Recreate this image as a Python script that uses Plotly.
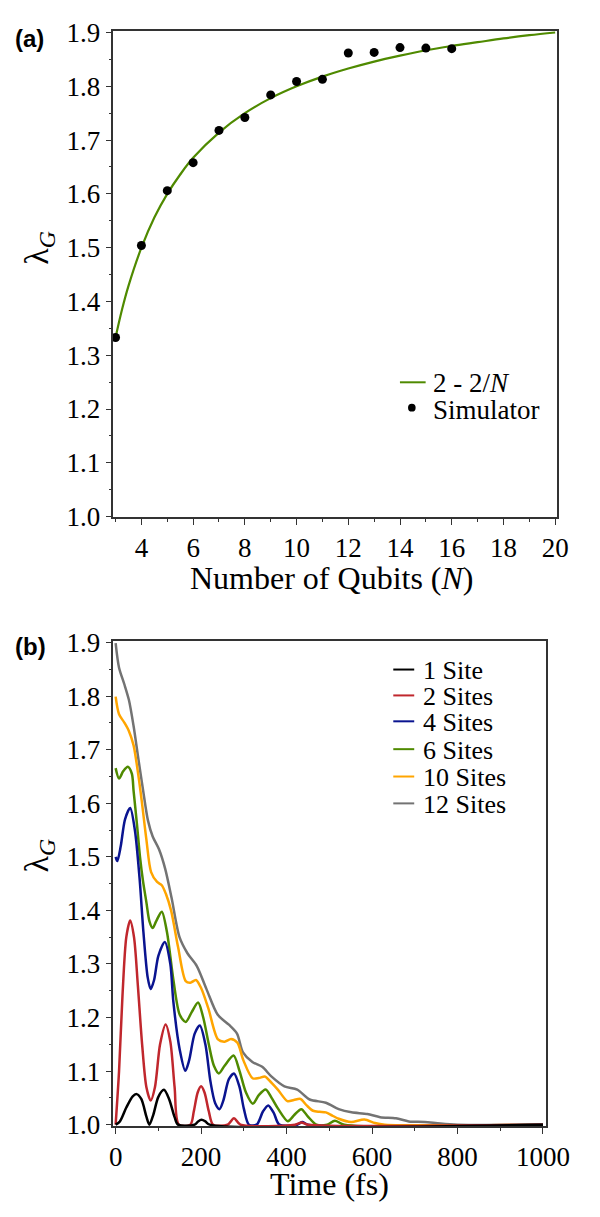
import plotly.graph_objects as go

# ---------------- data: panel (a) ----------------
fit_N = [3, 3.25, 3.5, 4, 4.5, 5, 5.5, 6, 7, 8, 9, 10, 11, 12, 13, 14, 15, 16, 17, 18, 19, 20]
fit_val = [1.333, 1.385, 1.429, 1.500, 1.556, 1.600, 1.636, 1.667, 1.714, 1.750, 1.778, 1.800,
           1.818, 1.833, 1.846, 1.857, 1.867, 1.875, 1.882, 1.889, 1.895, 1.900]
sim_N = [3, 4, 5, 6, 7, 8, 9, 10, 11, 12, 13, 14, 15, 16]
sim_val = [1.333, 1.504, 1.606, 1.658, 1.718, 1.742, 1.784, 1.809, 1.813, 1.862, 1.863, 1.872, 1.871, 1.870]

# ---------------- data: panel (b) ----------------
t_1 = [0, 10, 25, 40, 49, 60, 72, 79, 88, 100, 113, 125, 138, 146, 185, 193, 201, 210, 220, 1000]
v_1 = [1.0, 1.006, 1.032, 1.053, 1.057, 1.048, 1.015, 1.0, 1.018, 1.052, 1.065, 1.048, 1.014, 1.0,
       1.0, 1.006, 1.009, 1.006, 1.0, 1.0]

t_2 = [0, 8, 16, 25, 34, 43, 52, 62, 72, 82, 92, 104, 117, 128, 138, 148, 175, 183, 192, 200, 208,
       218, 228, 262, 277, 292, 420, 435, 450, 1000]
v_2 = [1.0, 1.10, 1.24, 1.35, 1.381, 1.35, 1.26, 1.15, 1.07, 1.045, 1.07, 1.15, 1.187, 1.155, 1.07,
       1.0, 1.0, 1.025, 1.06, 1.0715, 1.06, 1.025, 1.0, 1.0, 1.012, 1.0, 1.0, 1.004, 1.0, 1.0]

t_4 = [0, 4, 12, 22, 34, 45, 56, 65, 75, 82, 90, 100, 115, 128, 135, 150, 163, 172, 185, 197, 210,
       222, 233, 243, 252, 265, 277, 290, 300, 312, 330, 345, 357, 370, 383, 425, 437, 450, 1000]
v_4 = [1.50, 1.492, 1.52, 1.57, 1.591, 1.55, 1.46, 1.36, 1.275, 1.253, 1.27, 1.315, 1.341, 1.30,
       1.23, 1.14, 1.1005, 1.12, 1.17, 1.185, 1.15, 1.08, 1.04, 1.029, 1.045, 1.085, 1.0957, 1.07,
       1.03, 1.0, 1.0, 1.025, 1.036, 1.022, 1.0, 1.0, 1.005, 1.0, 1.0]

t_6 = [0, 8, 18, 28.6, 38, 42, 50, 57, 64, 72, 79, 86.5, 95, 108, 120, 135, 150, 164, 178, 193, 205,
       218, 230, 241.5, 255, 276, 290, 305, 321, 335, 351, 365, 380, 403, 418, 434.5, 450, 470, 495,
       513, 535, 1000]
v_6 = [1.6655, 1.646, 1.66, 1.668, 1.655, 1.623, 1.56, 1.50, 1.455, 1.415, 1.38, 1.367, 1.38, 1.3975,
       1.36, 1.271, 1.205, 1.1915, 1.21, 1.228, 1.20, 1.15, 1.11, 1.0957, 1.11, 1.129, 1.10, 1.06,
       1.039, 1.055, 1.0655, 1.05, 1.03, 1.0066, 1.018, 1.029, 1.015, 1.0, 1.0, 1.0075, 1.0, 1.0]

t_10 = [0, 8, 20, 31, 42, 53, 61, 72, 83, 97, 108, 118, 130, 146, 164, 175, 188, 200, 217, 239.5,
        255, 270, 285, 299, 320.5, 335, 350, 365, 380, 402, 417, 432.6, 447, 462, 477, 492, 507, 522,
        551, 582, 607, 630, 1000]
v_10 = [1.799, 1.766, 1.751, 1.735, 1.708, 1.653, 1.605, 1.532, 1.4715, 1.453, 1.447, 1.43, 1.399,
        1.332, 1.268, 1.265, 1.27, 1.255, 1.217, 1.159, 1.155, 1.16, 1.153, 1.12, 1.0866, 1.087,
        1.0896, 1.078, 1.065, 1.044, 1.046, 1.048, 1.036, 1.026, 1.024, 1.023, 1.017, 1.011, 1.005,
        1.0097, 1.003, 1.0, 1.0]

t_12 = [0, 8, 20, 31, 42, 53, 64.5, 75.6, 86.7, 101.5, 116, 131, 149.5, 168, 190, 212.6, 239, 265,
        284, 298, 320, 343, 365, 395, 425, 454, 492, 522, 552, 589, 619, 656, 686, 723, 760, 800, 1000]
v_12 = [1.899, 1.853, 1.823, 1.793, 1.744, 1.684, 1.623, 1.568, 1.538, 1.514, 1.4775, 1.423, 1.35,
        1.32, 1.296, 1.253, 1.205, 1.1866, 1.17, 1.135, 1.117, 1.108, 1.0896, 1.0715, 1.0655, 1.047,
        1.041, 1.029, 1.023, 1.02, 1.014, 1.012, 1.006, 1.005, 1.002, 1.0, 1.0]

series_b = [
    ("1 Site", t_1, v_1, "#000000"),
    ("2 Sites", t_2, v_2, "#c0272d"),
    ("4 Sites", t_4, v_4, "#0a1490"),
    ("6 Sites", t_6, v_6, "#4f8a00"),
    ("10 Sites", t_10, v_10, "#ffa500"),
    ("12 Sites", t_12, v_12, "#737373"),
]

x_ticks_a = [4, 6, 8, 10, 12, 14, 16, 18, 20]
x_minor_a = [3, 5, 7, 9, 11, 13, 15, 17, 19]

W, H = 600, 1217
def PX(x):
    return x / W
def PY(y):
    return 1 - y / H

SERIF = "Liberation Serif"
SANS = "Liberation Sans"
GREEN = "#4f8a00"

fig = go.Figure()

fig.add_trace(go.Scatter(x=fit_N, y=fit_val, mode="lines", line=dict(color=GREEN, width=2.2, shape="spline"),
                         xaxis="x", yaxis="y", showlegend=False))
fig.add_trace(go.Scatter(x=sim_N, y=sim_val, mode="markers", marker=dict(color="black", size=9),
                         xaxis="x", yaxis="y", showlegend=False, cliponaxis=False))

# draw order: 12 .. 1 so black on top
for name, t, v, c in reversed(series_b):
    fig.add_trace(go.Scatter(x=t, y=v, mode="lines", line=dict(color=c, width=2.5, shape="spline", smoothing=0.8),
                             xaxis="x2", yaxis="y2", showlegend=False))

axis_common = dict(showline=True, linecolor="#333333", linewidth=1.5, mirror=True, ticks="outside",
                   ticklen=6, tickwidth=1.2, tickcolor="#333333", showgrid=False, zeroline=False,
                   tickfont=dict(family=SERIF, size=27, color="black"))

fig.update_layout(
    width=W, height=H, margin=dict(l=0, r=0, t=0, b=0),
    plot_bgcolor="white", paper_bgcolor="white",
    font=dict(family=SERIF, color="black"),
    xaxis=dict(domain=[PX(114), PX(580)], range=[2.92, 20.07], anchor="y", tickvals=x_ticks_a,
               minor=dict(tickvals=x_minor_a, ticklen=3, ticks="outside", tickcolor="#333333"),
               **axis_common),
    yaxis=dict(domain=[PY(516), PY(18)], range=[0.999, 1.9036], anchor="x", dtick=0.1, tick0=1.0,
               tickformat=".1f",
               minor=dict(dtick=0.05, ticklen=3, ticks="outside", tickcolor="#333333"),
               **axis_common),
    xaxis2=dict(domain=[PX(114), PX(568)], range=[-5, 1006], anchor="y2", dtick=200, tick0=0,
                minor=dict(dtick=100, ticklen=3, ticks="outside", tickcolor="#333333"),
                **axis_common),
    yaxis2=dict(domain=[PY(1139.5), PY(643)], range=[0.997, 1.9024], anchor="x2", dtick=0.1, tick0=1.0,
                tickformat=".1f",
                minor=dict(dtick=0.05, ticklen=3, ticks="outside", tickcolor="#333333"),
                **axis_common),
)

ann = []
def text(x, y, s, size, xanchor="center", angle=0, family=SERIF):
    ann.append(dict(x=PX(x), y=PY(y), xref="paper", yref="paper", text=s, showarrow=False,
                    xanchor=xanchor, yanchor="middle", textangle=angle,
                    font=dict(family=family, size=size, color="black")))

# panel labels
text(8, 26, "<b>(a)</b>", 24, xanchor="left", family=SANS)
text(8, 648, "<b>(b)</b>", 24, xanchor="left", family=SANS)
# axis titles
text(344, 578, "Number of Qubits (<i>N</i>)", 32)
text(341, 1199, "Time (fs)", 32)
text(36, 240, "λ<sub><i>G</i></sub>", 34, angle=-90)
text(36, 862, "λ<sub><i>G</i></sub>", 34, angle=-90)

shapes = []
# legend (a)
shapes.append(dict(type="line", xref="paper", yref="paper", x0=PX(415), x1=PX(442), y0=PY(378), y1=PY(378),
                   line=dict(color=GREEN, width=2)))
text(448, 379, "2 - 2/<i>N</i>", 27, xanchor="left")
shapes.append(dict(type="circle", xref="paper", yref="paper", x0=PX(423.5), x1=PX(431.5), y0=PY(400),
                   y1=PY(408), fillcolor="black", line=dict(color="black", width=0)))
text(448, 406, "Simulator", 27, xanchor="left")

# legend (b)
leg_y = [672, 698.5, 725, 753.5, 781.5, 809]
for (name, t, v, c), yy in zip(series_b, leg_y):
    shapes.append(dict(type="line", xref="paper", yref="paper", x0=PX(408), x1=PX(430), y0=PY(yy), y1=PY(yy),
                       line=dict(color=c, width=2)))
    text(437, yy + 1, name, 26, xanchor="left")

fig.update_layout(annotations=ann, shapes=shapes)
fig.write_html("out.html")
